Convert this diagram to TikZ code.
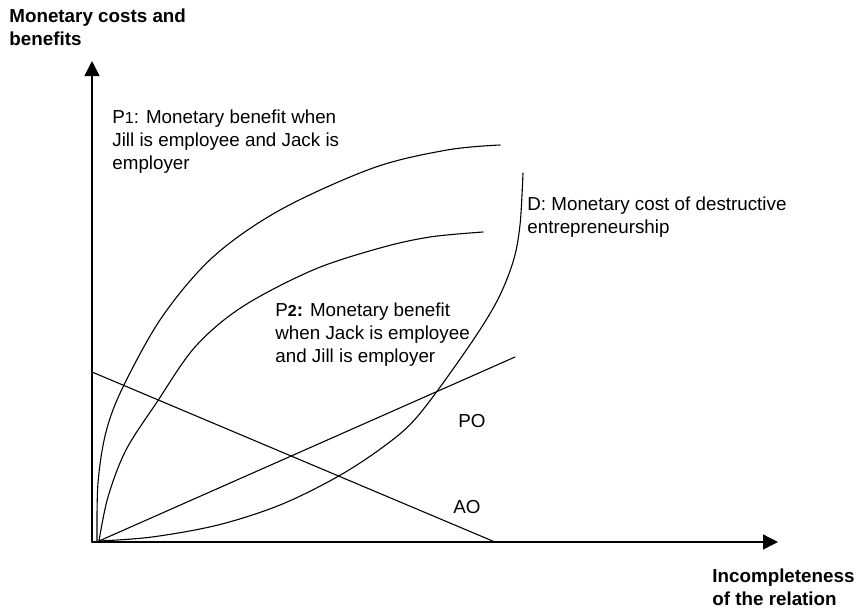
\documentclass[tikz,border=0pt]{standalone}
\usepackage{fontspec}
\setmainfont{Liberation Sans}
\usetikzlibrary{arrows.meta,calc}

\begin{document}
\begin{tikzpicture}[line cap=round,line join=round,x=0.5pt,y=-0.5pt,
  lbl/.style={anchor=base west,inner sep=0pt,align=left,font=\fontsize{9.4}{11.5}\selectfont},
  axlbl/.style={lbl,font=\fontsize{9.4}{11.5}\selectfont\bfseries},
  axis/.style={line width=0.7pt,-{Triangle[length=7.5pt,width=7.5pt]}},
  crv/.style={line width=0.55pt}]
\useasboundingbox (0,0) rectangle (864,607);
\coordinate (O) at (92,542);
\coordinate (S) at (99,541);
\coordinate (ytip) at (92,61);
\coordinate (xtip) at (778,542);
\draw [axis] (O) -- (ytip);
\draw [axis] (O) -- (xtip);
\draw [crv] plot[smooth,tension=0.55] coordinates {(97,541) (98,483) (106,432) (123,387) (162,317) (213,257) (280,210) (373,168) (447,150) (500,145)};
\draw [crv] plot[smooth,tension=0.55] coordinates {(S) (108,497) (126,450) (157,402) (195,347) (242,307) (313,270) (380,248) (430,237) (483,232)};
\draw [crv] plot[smooth,tension=0.55] coordinates {(S) (152,537) (218,525) (280,505) (337,477) (383,447) (417,417) (465,352) (496,303) (513,262) (520,225) (523,173)};
\coordinate (POend) at (515,357);
\coordinate (AOstart) at (92,372);
\coordinate (AOend) at (495,542);
\draw [crv] (S) -- (POend);
\draw [crv] (AOstart) -- (AOend);
\node [axlbl] (ylbl) at (9,45) {Monetary costs and\\benefits};
\node [axlbl] (xlbl) at (712,605) {Incompleteness\\of the relation};
\node [lbl] (P1lbl) at (112,169) {P{\footnotesize 1}: Monetary benefit when\\Jill is employee and Jack is\\employer};
\node [lbl] (P2lbl) at (275,362) {P{\footnotesize\bfseries 2}\textbf{:} Monetary benefit\\when Jack is employee\\and Jill is employer};
\node [lbl] (Dlbl) at (527,233) {D: Monetary cost of destructive\\entrepreneurship};
\node [lbl] (POlbl) at (458,427) {PO};
\node [lbl] (AOlbl) at (453,513) {AO};
\end{tikzpicture}
\end{document}
